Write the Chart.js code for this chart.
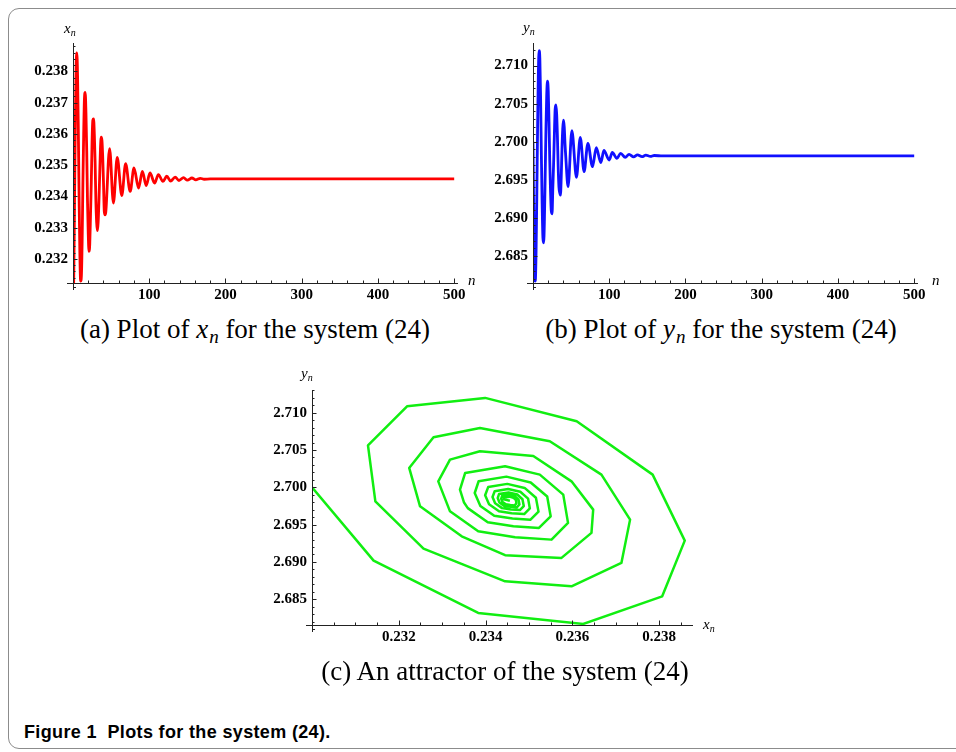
<!DOCTYPE html>
<html>
<head>
<meta charset="utf-8">
<script src="https://cdn.jsdelivr.net/npm/chart.js@4.4.1/dist/chart.umd.min.js"></script>
<style>
    body { margin: 0; width: 956px; height: 752px; background: #fff; overflow: hidden; position: relative; }
    .frame { position: absolute; left: 8px; top: 8px; width: 990px; height: 739px; border: 1px solid #8c8c8c; border-radius: 11px; }
    .plot { position: absolute; }
    .lbl { position: absolute; font-family: 'Liberation Serif', serif; font-style: italic; font-size: 15px; line-height: 15px; white-space: nowrap; }
    .lbl .s { font-size: 10px; position: relative; top: 3px; }
    .subcap { position: absolute; width: 500px; text-align: center; font-family: 'Liberation Serif', serif; font-size: 27px; line-height: 30px; white-space: nowrap; }
    .subcap sub { font-style: italic; font-size: 19px; vertical-align: -5px; line-height: 0; margin-left: 1px; }
    .caption { position: absolute; left: 24px; top: 722px; font-family: 'Liberation Sans', sans-serif; font-weight: bold; font-size: 18px; line-height: 20px; letter-spacing: 0.35px; white-space: pre; }
</style>
</head>
<body>
<div class="frame"></div>

<canvas id="chartA" class="plot" width="470" height="310" style="left:0;top:0"></canvas>
<canvas id="chartB" class="plot" width="480" height="310" style="left:470px;top:0"></canvas>
<canvas id="chartC" class="plot" width="490" height="300" style="left:240px;top:360px"></canvas>

<div class="lbl" style="left:64px;top:21px">x<span class="s">n</span></div>
<div class="lbl" style="left:468px;top:273px">n</div>
<div class="lbl" style="left:523px;top:20px">y<span class="s">n</span></div>
<div class="lbl" style="left:932px;top:273px">n</div>
<div class="lbl" style="left:301px;top:366px">y<span class="s">n</span></div>
<div class="lbl" style="left:703px;top:617px">x<span class="s">n</span></div>

<div class="subcap" style="left:5px;top:314px">(a) Plot of <i>x</i><sub>n</sub> for the system (24)</div>
<div class="subcap" style="left:471px;top:314px">(b) Plot of <i>y</i><sub>n</sub> for the system (24)</div>
<div class="subcap" style="left:255px;top:656px">(c) An attractor of the system (24)</div>
<div class="caption">Figure 1  Plots for the system (24).</div>

<script>
// first iterations (n = 0..43)
const xFirst = [0.23000, 0.23142, 0.23383, 0.23625, 0.23807, 0.23859, 0.23785, 0.23610, 0.23399, 0.23219,
    0.23129, 0.23146, 0.23257, 0.23445, 0.23598, 0.23713, 0.23733, 0.23667, 0.23548, 0.23387,
    0.23280, 0.23224, 0.23249, 0.23345, 0.23445, 0.23575, 0.23644, 0.23648, 0.23598, 0.23510,
    0.23387, 0.23318, 0.23291, 0.23318, 0.23383, 0.23468, 0.23552, 0.23590, 0.23579, 0.23525,
    0.23445, 0.23353, 0.23341, 0.23350];
const yFirst = [2.70000, 2.69018, 2.68316, 2.68169, 2.68539, 2.69286, 2.70170, 2.70885, 2.71198, 2.71086,
    2.70563, 2.69812, 2.69178, 2.68740, 2.68673, 2.68987, 2.69567, 2.70170, 2.70617, 2.70796,
    2.70670, 2.70260, 2.69745, 2.69343, 2.69090, 2.69054, 2.69389, 2.69701, 2.70080, 2.70420,
    2.70483, 2.70371, 2.70080, 2.69678, 2.69410, 2.69332, 2.69299, 2.69523, 2.69902, 2.70170,
    2.70282, 2.70193, 2.69969, 2.69800];

// later turning points of x_n and y_n (n, value)
const xTurnN = [48, 53, 58, 64, 69, 75, 80, 86, 91, 96, 101, 107, 112, 118, 123, 128, 134, 139, 145, 150, 156, 161, 167, 172, 180, 500];
const xTurnV = [0.23553, 0.23379, 0.23525, 0.23403, 0.23505, 0.23416, 0.23491, 0.23427, 0.23480, 0.23435,
    0.23475, 0.23443, 0.23470, 0.23448, 0.23465, 0.23449, 0.23462, 0.23451, 0.23460, 0.23452,
    0.23459, 0.23453, 0.23458, 0.23455, 0.23456, 0.23456];
const yTurnN = [46, 51, 57, 62, 67, 72, 78, 83, 89, 93, 100, 104, 110, 115, 121, 126, 132, 137, 143, 148, 154, 159, 170, 500];
const yTurnV = [2.69410, 2.70144, 2.69533, 2.70058, 2.69607, 2.69979, 2.69672, 2.69921, 2.69725, 2.69885,
    2.69760, 2.69859, 2.69782, 2.69848, 2.69795, 2.69835, 2.69800, 2.69828, 2.69804, 2.69823,
    2.69807, 2.69819, 2.69813, 2.69813];

// inner loops of the attractor after n = 43
const xSpiral = [0.23359, 0.23405, 0.23464, 0.23523, 0.23550, 0.23542, 0.23504, 0.23448, 0.23384, 0.23375,
    0.23388, 0.23420, 0.23462, 0.23503, 0.23522, 0.23516, 0.23490, 0.23450, 0.23406, 0.23399,
    0.23408, 0.23431, 0.23460, 0.23489, 0.23502, 0.23498, 0.23480, 0.23452, 0.23421, 0.23416,
    0.23422, 0.23438, 0.23459, 0.23479, 0.23488, 0.23485, 0.23473, 0.23453, 0.23431, 0.23428,
    0.23432, 0.23443, 0.23458, 0.23472, 0.23478, 0.23476, 0.23468, 0.23454, 0.23438, 0.23436,
    0.23439, 0.23447, 0.23457, 0.23467, 0.23471, 0.23470, 0.23464, 0.23455, 0.23443, 0.23442,
    0.23456];
const ySpiral = [2.69721, 2.69533, 2.69478, 2.69455, 2.69612, 2.69877, 2.70065, 2.70143, 2.70081, 2.69924,
    2.69751, 2.69619, 2.69581, 2.69564, 2.69674, 2.69860, 2.69992, 2.70046, 2.70003, 2.69893,
    2.69772, 2.69679, 2.69653, 2.69641, 2.69718, 2.69848, 2.69940, 2.69978, 2.69948, 2.69871,
    2.69786, 2.69721, 2.69703, 2.69695, 2.69749, 2.69840, 2.69904, 2.69931, 2.69910, 2.69856,
    2.69796, 2.69751, 2.69738, 2.69732, 2.69770, 2.69834, 2.69879, 2.69898, 2.69883, 2.69845,
    2.69803, 2.69772, 2.69763, 2.69758, 2.69785, 2.69830, 2.69861, 2.69875, 2.69864, 2.69838,
    2.69820];

// tick labels
const nTicks = [100, 200, 300, 400, 500];
const xTicksA = [0.232, 0.233, 0.234, 0.235, 0.236, 0.237, 0.238];
const yTicksB = [2.685, 2.690, 2.695, 2.700, 2.705, 2.710];
const xTicksC = [0.232, 0.234, 0.236, 0.238];
const yTicksC = [2.685, 2.690, 2.695, 2.700, 2.705, 2.710];

const tickFont = { family: 'Liberation Serif', weight: 'bold', size: 15 };

// Mathematica-like axes: lines at the bottom/left edge, inward major and minor ticks
const mathAxes = {
    id: 'mathAxes',
    afterDatasetsDraw(chart, args, o) {
        const { ctx, chartArea: a, scales: { x, y } } = chart;
        ctx.save();
        ctx.strokeStyle = '#222';
        ctx.lineWidth = 1;
        ctx.beginPath();
        ctx.moveTo(a.left - 6, a.bottom + 0.5);
        ctx.lineTo(a.right, a.bottom + 0.5);
        ctx.moveTo(a.left + 0.5, a.top);
        ctx.lineTo(a.left + 0.5, a.bottom + 7);
        ctx.moveTo(a.left, a.bottom + 4.5);
        ctx.lineTo(a.left + 3, a.bottom + 4.5);

        const minors = (scale, step) => {
            const out = [];
            for (let k = Math.ceil(scale.min / step - 1e-6); k * step <= scale.max + 1e-9; k++) out.push(k * step);
            return out;
        };
        const xTick = (v, len) => {
            const p = Math.round(x.getPixelForValue(v)) + 0.5;
            ctx.moveTo(p, a.bottom);
            ctx.lineTo(p, a.bottom - len);
        };
        const yTick = (v, len) => {
            const p = Math.round(y.getPixelForValue(v)) + 0.5;
            ctx.moveTo(a.left, p);
            ctx.lineTo(a.left + len, p);
        };
        minors(x, o.xMinor).forEach(v => xTick(v, 2.5));
        minors(y, o.yMinor).forEach(v => yTick(v, 2.5));
        x.ticks.forEach(t => xTick(t.value, 4.5));
        y.ticks.forEach(t => yTick(t.value, 4.5));
        ctx.stroke();
        ctx.restore();
    }
};

function makeChart(id, points, color, cfg) {
    return new Chart(document.getElementById(id), {
        type: 'line',
        data: {
            datasets: [{
                data: points,
                borderColor: color,
                borderWidth: cfg.width,
                pointRadius: 0,
                cubicInterpolationMode: cfg.smooth ? 'monotone' : 'default',
                tension: 0,
                borderJoinStyle: 'round',
                fill: false
            }]
        },
        options: {
            responsive: false,
            animation: false,
            devicePixelRatio: 1,
            layout: { padding: cfg.padding },
            plugins: {
                legend: { display: false },
                tooltip: { enabled: false },
                mathAxes: { xMinor: cfg.xMinor, yMinor: cfg.yMinor }
            },
            scales: {
                x: {
                    type: 'linear',
                    min: cfg.xMin,
                    max: cfg.xMax,
                    grid: { display: false, drawTicks: false },
                    border: { display: false },
                    afterFit: s => { s.height = cfg.xHeight; },
                    afterBuildTicks: s => { s.ticks = cfg.xTicks.map(v => ({ value: v })); },
                    ticks: { font: tickFont, color: '#000', padding: 3, maxRotation: 0, callback: cfg.xFmt }
                },
                y: {
                    type: 'linear',
                    min: cfg.yMin,
                    max: cfg.yMax,
                    grid: { display: false, drawTicks: false },
                    border: { display: false },
                    afterFit: s => { s.width = cfg.yWidth; },
                    afterBuildTicks: s => { s.ticks = cfg.yTicks.map(v => ({ value: v })); },
                    ticks: { font: tickFont, color: '#000', padding: 5, callback: v => v.toFixed(3) }
                }
            }
        },
        plugins: [mathAxes]
    });
}

// time series points
const xPoints = xFirst.map((v, i) => ({ x: i, y: v }))
    .concat(xTurnN.map((n, i) => ({ x: n, y: xTurnV[i] })));
const yPoints = yFirst.map((v, i) => ({ x: i, y: v }))
    .concat(yTurnN.map((n, i) => ({ x: n, y: yTurnV[i] })));
// attractor points (x_n, y_n)
const attrPoints = xFirst.map((v, i) => ({ x: v, y: yFirst[i] }))
    .concat(xSpiral.map((v, i) => ({ x: v, y: ySpiral[i] })));

makeChart('chartA', xPoints, '#ff0000', {
    padding: { top: 43, right: 12, left: 0, bottom: 0 },
    xMin: 0, xMax: 505, yMin: 0.23123, yMax: 0.23891,
    xTicks: nTicks, yTicks: xTicksA, xMinor: 20, yMinor: 0.0002,
    xHeight: 27, yWidth: 73, xFmt: v => String(v), width: 2.8, smooth: true
});

makeChart('chartB', yPoints, '#1010ff', {
    padding: { top: 43, right: 32, left: 0, bottom: 0 },
    xMin: 0, xMax: 505, yMin: 2.68144, yMax: 2.71297,
    xTicks: nTicks, yTicks: yTicksB, xMinor: 20, yMinor: 0.001,
    xHeight: 27, yWidth: 63, xFmt: v => String(v), width: 2.8, smooth: true
});

makeChart('chartC', attrPoints, '#11ee11', {
    padding: { top: 30, right: 37, left: 0, bottom: 0 },
    xMin: 0.2300, xMax: 0.23878, yMin: 2.68155, yMax: 2.71304,
    xTicks: xTicksC, yTicks: yTicksC, xMinor: 0.0005, yMinor: 0.001,
    xHeight: 35, yWidth: 72, xFmt: v => v.toFixed(3), width: 2.5, smooth: false
});
</script>
</body>
</html>
